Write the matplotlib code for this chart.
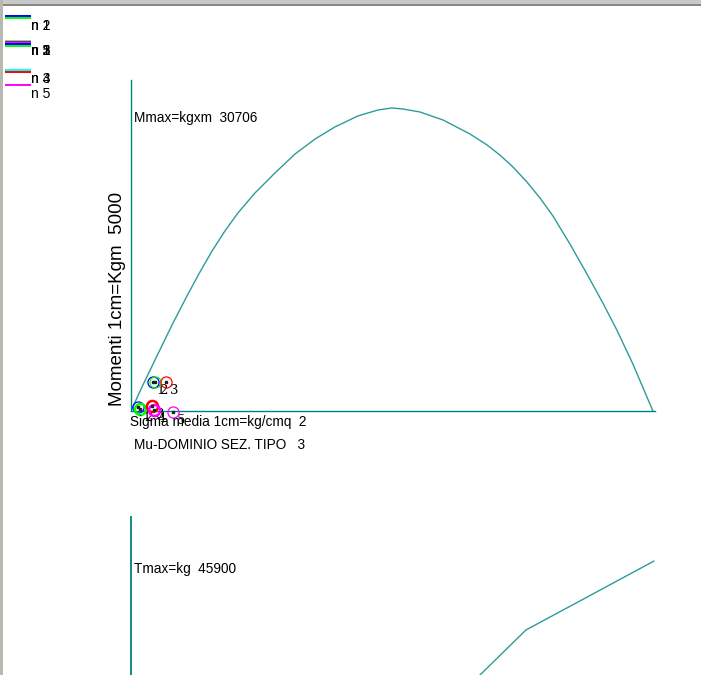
import matplotlib
matplotlib.use('Agg')
import matplotlib.pyplot as plt
from matplotlib.patches import Rectangle

# Mu-domain curve (sigma media kg/cmq, moment kgm)
sigma = [0, 0.58, 1.27, 2.17, 2.96, 3.65, 4.29, 4.97, 5.66, 6.56, 7.62,
         8.68, 9.74, 10.79, 12.01, 13.07, 13.81, 14.39, 15.29, 16.51, 17.94,
         18.84, 19.52, 20.21, 20.95, 21.64, 22.33, 23.23, 24.13, 24.97,
         25.71, 26.56, 27.62]
moment = [0, 2430, 5170, 8715, 11650, 14090, 16210, 18240, 20070, 22090,
          24120, 26040, 27560, 28780, 29900, 30500, 30706, 30600, 30300,
          29490, 28070, 26960, 25940, 24730, 23210, 21590, 19760, 16920,
          13880, 10950, 8210, 4760, 0]

# shear diagram (visible part)
shear_x = [18.47, 20.90, 27.67]
shear_t = [27680, 34880, 45900]

# section points: sigma, moment, colour, label, thick edge
pt_sigma = [1.16, 1.27, 1.85, 0.37, 0.48, 1.11, 1.22, 2.22]
pt_moment = [2940, 2940, 2940, 405, 203, 507, 101, -101]
pt_color = ['#0000ff', '#00ff00', '#ff0000', '#0000ff', '#00ff00',
            '#ff0000', '#ff00ff', '#ff00ff']
pt_label = ['1', '2', '3', '1', '2', '3', '4', '5']
pt_thick = [False, False, False, False, True, True, True, False]

# legend entries: colour, label, line y, text y (window pixels)
leg_color = ['#0000ff', '#00ff00', '#00ffff', '#ff0000', '#ff00ff',
             '#0000ff', '#00ff00', '#00ffff', '#ff0000', '#ff00ff']
leg_label = ['n 1', 'n 2', 'n 3', 'n 1', 'n 5', 'n 1', 'n 2', 'n 3', 'n 4', 'n 5']
leg_line_y = [16, 18, 40.5, 42, 43, 44, 45.5, 69.5, 72, 85]
leg_text_y = [26, 26, 51, 51, 51, 51, 51, 79, 79, 94]

W, H = 701, 675
TEAL = '#008080'
CURVE = '#2e9b9b'
FONT = 'Liberation Sans'

fig = plt.figure(figsize=(W / 100, H / 100), dpi=100)
fig.patch.set_facecolor('white')


def frac(px_left, px_top, px_right, px_bottom):
    return [px_left / W, (H - px_bottom) / H, (px_right - px_left) / W,
            (px_bottom - px_top) / H]


# window frame
fig.patches.append(Rectangle((0, (H - 4) / H), 1, 4 / H, transform=fig.transFigure,
                             facecolor='#c8c8c8', edgecolor='none'))
fig.patches.append(Rectangle((0, (H - 6) / H), 1, 2 / H, transform=fig.transFigure,
                             facecolor='#8a8880', edgecolor='none'))
fig.patches.append(Rectangle((0, 0), 3 / W, 1, transform=fig.transFigure,
                             facecolor='#b8b8b0', edgecolor='none'))

# upper diagram
ax = fig.add_axes(frac(131, 80, 655, 411))
ax.plot(sigma, moment, color=CURVE, lw=1.0)
for s, m, c, lab, thick in zip(pt_sigma, pt_moment, pt_color, pt_label, pt_thick):
    ax.plot(s, m, 'o', ms=8, mfc='none', mec=c, mew=1.8 if thick else 0.9,
            clip_on=False, zorder=4)
    ax.plot(s, m, 's', ms=1.6, color='#202020', clip_on=False, zorder=5)
    ax.annotate(lab, (s, m), xytext=(4, -12), textcoords='offset pixels',
                fontsize=9.5, family='DejaVu Serif', color='black',
                annotation_clip=False)
ax.set_xlim(0, 27.73)
ax.set_ylim(0, 33540)
ax.set_xticks([])
ax.set_yticks([])
for side in ['top', 'right']:
    ax.spines[side].set_visible(False)
for side in ['left', 'bottom']:
    ax.spines[side].set_color(TEAL)
    ax.spines[side].set_linewidth(1.0)
ax.patch.set_alpha(0)

# lower diagram
ax2 = fig.add_axes(frac(131, 517, 655, 848))
ax2.plot(shear_x, shear_t, color=CURVE, lw=1.0)
ax2.set_xlim(0, 27.73)
ax2.set_ylim(0, 52960)
ax2.set_xticks([])
ax2.set_yticks([])
for side in ['top', 'right', 'bottom']:
    ax2.spines[side].set_visible(False)
ax2.spines['left'].set_color(TEAL)
ax2.spines['left'].set_linewidth(1.3)
ax2.patch.set_alpha(0)

# overlay in window pixels for texts and legend
ov = fig.add_axes([0, 0, 1, 1])
ov.set_xlim(0, W)
ov.set_ylim(H, 0)
ov.axis('off')
ov.patch.set_alpha(0)

for c, lab, ly, ty in zip(leg_color, leg_label, leg_line_y, leg_text_y):
    ov.plot([5, 31], [ly, ly], color=c, lw=1.4, solid_capstyle='butt')
    ov.text(31, ty, lab, fontsize=10, family=FONT, va='center', ha='left')

ov.text(134, 118, 'Mmax=kgxm  30706', fontsize=9.8, family=FONT, va='center')
ov.text(118, 299, 'Momenti 1cm=Kgm  5000', fontsize=13.5, family=FONT,
        rotation=90, va='center', ha='center')
ov.text(130, 422, 'Sigma media 1cm=kg/cmq  2', fontsize=9.8, family=FONT, va='center')
ov.text(134, 445, 'Mu-DOMINIO SEZ. TIPO   3', fontsize=9.8, family=FONT, va='center')
ov.text(134, 569, 'Tmax=kg  45900', fontsize=9.8, family=FONT, va='center')

fig.savefig('out.png', dpi=100)
